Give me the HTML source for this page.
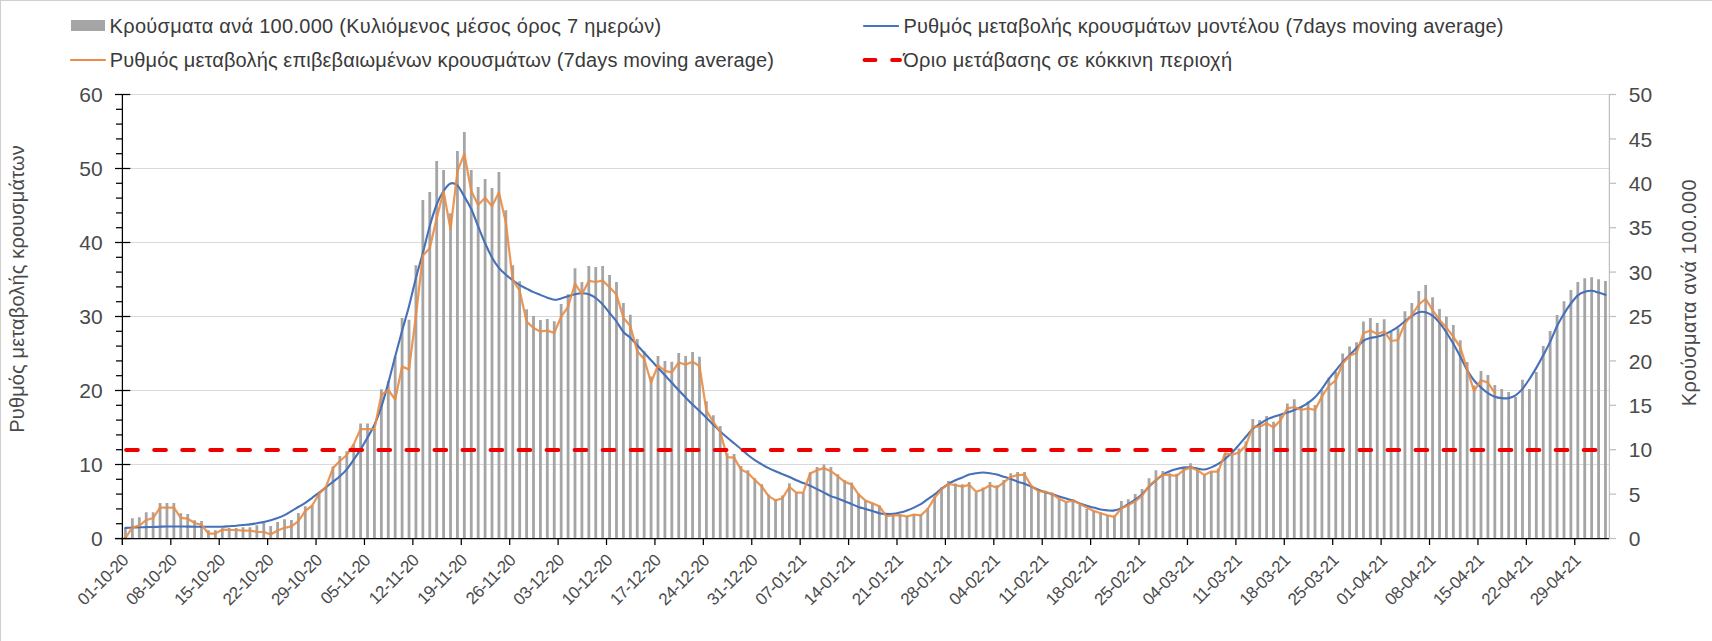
<!DOCTYPE html>
<html><head><meta charset="utf-8"><style>
html,body{margin:0;padding:0;background:#fff;}
body{width:1712px;height:641px;overflow:hidden;position:relative;}
svg{position:absolute;left:0;top:0;display:block;}
text{font-family:"Liberation Sans",sans-serif;}
.ax{font-size:21px;fill:#4a4a4a;}
.xl{font-size:17px;fill:#4a4a4a;letter-spacing:-0.6px;}
.tt{font-size:20px;fill:#4a4a4a;}
.lg{font-size:20px;fill:#3a3a3a;}
</style></head><body>
<svg width="1712" height="641" viewBox="0 0 1712 641">
<rect x="0" y="0" width="1712" height="641" fill="#fff"/>
<rect x="0" y="0" width="1712" height="1" fill="#cfcfcf"/>
<rect x="0" y="0" width="1" height="641" fill="#cfcfcf"/>
<line x1="123" y1="464.5" x2="1609.4" y2="464.5" stroke="#d9d9d9" stroke-width="1"/>
<line x1="123" y1="390.5" x2="1609.4" y2="390.5" stroke="#d9d9d9" stroke-width="1"/>
<line x1="123" y1="316.5" x2="1609.4" y2="316.5" stroke="#d9d9d9" stroke-width="1"/>
<line x1="123" y1="242.5" x2="1609.4" y2="242.5" stroke="#d9d9d9" stroke-width="1"/>
<line x1="123" y1="168.5" x2="1609.4" y2="168.5" stroke="#d9d9d9" stroke-width="1"/>
<line x1="123" y1="94.5" x2="1609.4" y2="94.5" stroke="#d9d9d9" stroke-width="1"/>
<path d="M124.06 527.9h2.8V538.5h-2.8zM130.97 518.2h2.8V538.5h-2.8zM137.89 517.2h2.8V538.5h-2.8zM144.81 512.3h2.8V538.5h-2.8zM151.72 512.3h2.8V538.5h-2.8zM158.64 503.1h2.8V538.5h-2.8zM165.55 503.1h2.8V538.5h-2.8zM172.47 503.1h2.8V538.5h-2.8zM179.39 513.2h2.8V538.5h-2.8zM186.3 514.1h2.8V538.5h-2.8zM193.22 520.2h2.8V538.5h-2.8zM200.13 521.1h2.8V538.5h-2.8zM207.05 530.2h2.8V538.5h-2.8zM213.97 530.2h2.8V538.5h-2.8zM220.88 528.3h2.8V538.5h-2.8zM227.8 528.1h2.8V538.5h-2.8zM234.71 528.1h2.8V538.5h-2.8zM241.63 527.2h2.8V538.5h-2.8zM248.55 527.2h2.8V538.5h-2.8zM255.46 525.2h2.8V538.5h-2.8zM262.38 523h2.8V538.5h-2.8zM269.29 526.1h2.8V538.5h-2.8zM276.21 521.9h2.8V538.5h-2.8zM283.13 519.3h2.8V538.5h-2.8zM290.04 520h2.8V538.5h-2.8zM296.96 513h2.8V538.5h-2.8zM303.87 506.3h2.8V538.5h-2.8zM310.79 505.5h2.8V538.5h-2.8zM317.71 493h2.8V538.5h-2.8zM324.62 486.8h2.8V538.5h-2.8zM331.54 466.5h2.8V538.5h-2.8zM338.45 456h2.8V538.5h-2.8zM345.37 451.2h2.8V538.5h-2.8zM352.29 444.2h2.8V538.5h-2.8zM359.2 423.4h2.8V538.5h-2.8zM366.12 423.4h2.8V538.5h-2.8zM373.03 429h2.8V538.5h-2.8zM379.95 389.2h2.8V538.5h-2.8zM386.87 381.1h2.8V538.5h-2.8zM393.78 356.6h2.8V538.5h-2.8zM400.7 317.9h2.8V538.5h-2.8zM407.61 319.8h2.8V538.5h-2.8zM414.53 265.2h2.8V538.5h-2.8zM421.45 200h2.8V538.5h-2.8zM428.36 192.1h2.8V538.5h-2.8zM435.28 161.1h2.8V538.5h-2.8zM442.19 170.1h2.8V538.5h-2.8zM449.11 213.3h2.8V538.5h-2.8zM456.03 151h2.8V538.5h-2.8zM462.94 132.1h2.8V538.5h-2.8zM469.86 170.1h2.8V538.5h-2.8zM476.77 187.1h2.8V538.5h-2.8zM483.69 179.1h2.8V538.5h-2.8zM490.61 188h2.8V538.5h-2.8zM497.52 172h2.8V538.5h-2.8zM504.44 210.2h2.8V538.5h-2.8zM511.35 265.2h2.8V538.5h-2.8zM518.27 281.2h2.8V538.5h-2.8zM525.19 309.2h2.8V538.5h-2.8zM532.1 316h2.8V538.5h-2.8zM539.02 319.9h2.8V538.5h-2.8zM545.93 319.1h2.8V538.5h-2.8zM552.85 321.2h2.8V538.5h-2.8zM559.77 304h2.8V538.5h-2.8zM566.68 294.2h2.8V538.5h-2.8zM573.6 268.2h2.8V538.5h-2.8zM580.51 282h2.8V538.5h-2.8zM587.43 266.1h2.8V538.5h-2.8zM594.35 267.1h2.8V538.5h-2.8zM601.26 266.1h2.8V538.5h-2.8zM608.18 275h2.8V538.5h-2.8zM615.09 282h2.8V538.5h-2.8zM622.01 302.9h2.8V538.5h-2.8zM628.93 314.7h2.8V538.5h-2.8zM635.84 339h2.8V538.5h-2.8zM642.76 351.2h2.8V538.5h-2.8zM649.67 376.5h2.8V538.5h-2.8zM656.59 356.1h2.8V538.5h-2.8zM663.51 361.1h2.8V538.5h-2.8zM670.42 361.8h2.8V538.5h-2.8zM677.34 353.1h2.8V538.5h-2.8zM684.25 356.1h2.8V538.5h-2.8zM691.17 351.9h2.8V538.5h-2.8zM698.09 356.8h2.8V538.5h-2.8zM705 401.2h2.8V538.5h-2.8zM711.92 415.2h2.8V538.5h-2.8zM718.83 426.1h2.8V538.5h-2.8zM725.75 453.2h2.8V538.5h-2.8zM732.67 454h2.8V538.5h-2.8zM739.58 466h2.8V538.5h-2.8zM746.5 470.2h2.8V538.5h-2.8zM753.41 478.2h2.8V538.5h-2.8zM760.33 484.2h2.8V538.5h-2.8zM767.25 494.5h2.8V538.5h-2.8zM774.16 499h2.8V538.5h-2.8zM781.08 495.4h2.8V538.5h-2.8zM787.99 483.2h2.8V538.5h-2.8zM794.91 492.6h2.8V538.5h-2.8zM801.83 492.6h2.8V538.5h-2.8zM808.74 472.3h2.8V538.5h-2.8zM815.66 467.1h2.8V538.5h-2.8zM822.57 464.6h2.8V538.5h-2.8zM829.49 467.1h2.8V538.5h-2.8zM836.41 474.2h2.8V538.5h-2.8zM843.32 480.2h2.8V538.5h-2.8zM850.24 482.4h2.8V538.5h-2.8zM857.15 493.6h2.8V538.5h-2.8zM864.07 500.6h2.8V538.5h-2.8zM870.99 502.7h2.8V538.5h-2.8zM877.9 505.5h2.8V538.5h-2.8zM884.82 514.6h2.8V538.5h-2.8zM891.73 515.4h2.8V538.5h-2.8zM898.65 515.1h2.8V538.5h-2.8zM905.57 515.8h2.8V538.5h-2.8zM912.48 514h2.8V538.5h-2.8zM919.4 514.6h2.8V538.5h-2.8zM926.31 508.3h2.8V538.5h-2.8zM933.23 497.1h2.8V538.5h-2.8zM940.15 487.6h2.8V538.5h-2.8zM947.06 481h2.8V538.5h-2.8zM953.98 483.4h2.8V538.5h-2.8zM960.89 484.2h2.8V538.5h-2.8zM967.81 482.1h2.8V538.5h-2.8zM974.73 492.2h2.8V538.5h-2.8zM981.64 487.6h2.8V538.5h-2.8zM988.56 482.1h2.8V538.5h-2.8zM995.47 485.2h2.8V538.5h-2.8zM1002.39 480h2.8V538.5h-2.8zM1009.31 473.2h2.8V538.5h-2.8zM1016.22 472.1h2.8V538.5h-2.8zM1023.14 472.1h2.8V538.5h-2.8zM1030.05 485.6h2.8V538.5h-2.8zM1036.97 490.1h2.8V538.5h-2.8zM1043.89 490.8h2.8V538.5h-2.8zM1050.8 492.6h2.8V538.5h-2.8zM1057.72 499.2h2.8V538.5h-2.8zM1064.63 502h2.8V538.5h-2.8zM1071.55 499.6h2.8V538.5h-2.8zM1078.47 504.8h2.8V538.5h-2.8zM1085.38 509h2.8V538.5h-2.8zM1092.3 511.1h2.8V538.5h-2.8zM1099.21 512.5h2.8V538.5h-2.8zM1106.13 515.4h2.8V538.5h-2.8zM1113.05 515.4h2.8V538.5h-2.8zM1119.96 501h2.8V538.5h-2.8zM1126.88 499.2h2.8V538.5h-2.8zM1133.79 494h2.8V538.5h-2.8zM1140.71 489.1h2.8V538.5h-2.8zM1147.63 478.2h2.8V538.5h-2.8zM1154.54 470.2h2.8V538.5h-2.8zM1161.46 471.1h2.8V538.5h-2.8zM1168.37 473.3h2.8V538.5h-2.8zM1175.29 473.7h2.8V538.5h-2.8zM1182.21 466.7h2.8V538.5h-2.8zM1189.12 463.2h2.8V538.5h-2.8zM1196.04 468.1h2.8V538.5h-2.8zM1202.95 474.4h2.8V538.5h-2.8zM1209.87 471.6h2.8V538.5h-2.8zM1216.79 468.8h2.8V538.5h-2.8zM1223.7 453.3h2.8V538.5h-2.8zM1230.62 454.7h2.8V538.5h-2.8zM1237.53 448.4h2.8V538.5h-2.8zM1244.45 441.4h2.8V538.5h-2.8zM1251.37 418.9h2.8V538.5h-2.8zM1258.28 420.1h2.8V538.5h-2.8zM1265.2 416.1h2.8V538.5h-2.8zM1272.11 421.8h2.8V538.5h-2.8zM1279.03 415.4h2.8V538.5h-2.8zM1285.95 403.5h2.8V538.5h-2.8zM1292.86 399.3h2.8V538.5h-2.8zM1299.78 407h2.8V538.5h-2.8zM1306.69 401.4h2.8V538.5h-2.8zM1313.61 404.9h2.8V538.5h-2.8zM1320.53 390.2h2.8V538.5h-2.8zM1327.44 377.5h2.8V538.5h-2.8zM1334.36 371.9h2.8V538.5h-2.8zM1341.27 353.4h2.8V538.5h-2.8zM1348.19 346.4h2.8V538.5h-2.8zM1355.11 342.2h2.8V538.5h-2.8zM1362.02 321.4h2.8V538.5h-2.8zM1368.94 318h2.8V538.5h-2.8zM1375.85 323.1h2.8V538.5h-2.8zM1382.77 319.2h2.8V538.5h-2.8zM1389.69 331.8h2.8V538.5h-2.8zM1396.6 328.3h2.8V538.5h-2.8zM1403.52 311.2h2.8V538.5h-2.8zM1410.43 303.1h2.8V538.5h-2.8zM1417.35 291.1h2.8V538.5h-2.8zM1424.27 285.1h2.8V538.5h-2.8zM1431.18 297.2h2.8V538.5h-2.8zM1438.1 309h2.8V538.5h-2.8zM1445.01 316.4h2.8V538.5h-2.8zM1451.93 325.1h2.8V538.5h-2.8zM1458.85 340.2h2.8V538.5h-2.8zM1465.76 362h2.8V538.5h-2.8zM1472.68 385.4h2.8V538.5h-2.8zM1479.59 371.1h2.8V538.5h-2.8zM1486.51 374.9h2.8V538.5h-2.8zM1493.43 385h2.8V538.5h-2.8zM1500.34 388.9h2.8V538.5h-2.8zM1507.26 392h2.8V538.5h-2.8zM1514.17 397.1h2.8V538.5h-2.8zM1521.09 379.8h2.8V538.5h-2.8zM1528.01 388.9h2.8V538.5h-2.8zM1534.92 372.1h2.8V538.5h-2.8zM1541.84 346.1h2.8V538.5h-2.8zM1548.75 331.1h2.8V538.5h-2.8zM1555.67 315.1h2.8V538.5h-2.8zM1562.59 301.2h2.8V538.5h-2.8zM1569.5 290.1h2.8V538.5h-2.8zM1576.42 282.1h2.8V538.5h-2.8zM1583.33 278.2h2.8V538.5h-2.8zM1590.25 277.2h2.8V538.5h-2.8zM1597.17 279.2h2.8V538.5h-2.8zM1604.08 281.1h2.8V538.5h-2.8z" fill="#a5a5a5"/>
<path d="M125.46 527.9C126.61 527.83 130.07 527.6 132.37 527.5C134.68 527.4 136.98 527.37 139.29 527.3C141.6 527.23 143.9 527.15 146.21 527.1C148.51 527.05 150.82 527.07 153.12 527C155.43 526.93 157.73 526.78 160.04 526.7C162.34 526.62 164.65 526.53 166.95 526.5C169.26 526.47 171.56 526.5 173.87 526.5C176.18 526.5 178.48 526.48 180.79 526.5C183.09 526.52 185.4 526.57 187.7 526.6C190.01 526.63 192.31 526.68 194.62 526.7C196.92 526.72 199.23 526.7 201.53 526.7C203.84 526.7 206.14 526.7 208.45 526.7C210.76 526.7 213.06 526.7 215.37 526.7C217.67 526.7 219.98 526.78 222.28 526.7C224.59 526.62 226.89 526.37 229.2 526.2C231.5 526.03 233.81 525.9 236.11 525.7C238.42 525.5 240.72 525.22 243.03 525C245.34 524.78 247.64 524.7 249.95 524.4C252.25 524.1 254.56 523.6 256.86 523.2C259.17 522.8 261.47 522.5 263.78 522C266.08 521.5 268.39 520.87 270.69 520.2C273 519.53 275.3 518.85 277.61 518C279.92 517.15 282.22 516.23 284.53 515.1C286.83 513.97 289.14 512.55 291.44 511.2C293.75 509.85 296.05 508.4 298.36 507C300.66 505.6 302.97 504.33 305.27 502.8C307.58 501.27 309.88 499.48 312.19 497.8C314.5 496.12 316.8 494.47 319.11 492.7C321.41 490.93 323.72 489.02 326.02 487.2C328.33 485.38 330.63 483.62 332.94 481.8C335.24 479.98 337.55 478.38 339.85 476.3C342.16 474.22 344.46 472.07 346.77 469.3C349.08 466.53 351.38 463.02 353.69 459.7C355.99 456.38 358.3 453.08 360.6 449.4C362.91 445.72 365.21 441.72 367.52 437.6C369.82 433.48 372.13 429.83 374.43 424.7C376.74 419.57 379.04 413.75 381.35 406.8C383.66 399.85 385.96 391.37 388.27 383C390.57 374.63 392.88 365.3 395.18 356.6C397.49 347.9 399.79 339.2 402.1 330.8C404.4 322.4 406.71 315 409.01 306.2C411.32 297.4 413.62 286.87 415.93 278C418.24 269.13 420.54 261.67 422.85 253C425.15 244.33 427.46 234.08 429.76 226C432.07 217.92 434.37 210.33 436.68 204.5C438.98 198.67 441.29 194.5 443.59 191C445.9 187.5 448.2 184.42 450.51 183.5C452.82 182.58 455.12 183.32 457.43 185.5C459.73 187.68 462.04 192.68 464.34 196.6C466.65 200.52 468.95 204.02 471.26 209C473.56 213.98 475.87 220.78 478.17 226.5C480.48 232.22 482.78 238.15 485.09 243.3C487.4 248.45 489.7 253.3 492.01 257.4C494.31 261.5 496.62 265.02 498.92 267.9C501.23 270.78 503.53 272.65 505.84 274.7C508.14 276.75 510.45 278.47 512.75 280.2C515.06 281.93 517.36 283.7 519.67 285.1C521.98 286.5 524.28 287.43 526.59 288.6C528.89 289.77 531.2 291.05 533.5 292.1C535.81 293.15 538.11 293.97 540.42 294.9C542.72 295.83 545.03 296.88 547.33 297.7C549.64 298.52 551.94 299.68 554.25 299.8C556.56 299.92 558.86 298.98 561.17 298.4C563.47 297.82 565.78 297 568.08 296.3C570.39 295.6 572.69 294.72 575 294.2C577.3 293.68 579.61 293.2 581.91 293.2C584.22 293.2 586.52 293.4 588.83 294.2C591.14 295 593.44 296.3 595.75 298C598.05 299.7 600.36 301.9 602.66 304.4C604.97 306.9 607.27 310.15 609.58 313C611.88 315.85 614.19 318.33 616.49 321.5C618.8 324.67 621.1 329.28 623.41 332C625.72 334.72 628.02 335.58 630.33 337.8C632.63 340.02 634.94 342.8 637.24 345.3C639.55 347.8 641.85 350.3 644.16 352.8C646.46 355.3 648.77 357.8 651.07 360.3C653.38 362.8 655.68 365.3 657.99 367.8C660.3 370.3 662.6 372.8 664.91 375.3C667.21 377.8 669.52 380.3 671.82 382.8C674.13 385.3 676.43 387.85 678.74 390.3C681.04 392.75 683.35 395.13 685.65 397.5C687.96 399.87 690.26 402.25 692.57 404.5C694.88 406.75 697.18 408.8 699.49 411C701.79 413.2 704.1 415.42 706.4 417.7C708.71 419.98 711.01 422.4 713.32 424.7C715.62 427 717.93 429.37 720.23 431.5C722.54 433.63 724.84 435.53 727.15 437.5C729.46 439.47 731.76 441.38 734.07 443.3C736.37 445.22 738.68 447.05 740.98 449C743.29 450.95 745.59 453.15 747.9 455C750.2 456.85 752.51 458.55 754.81 460.1C757.12 461.65 759.42 462.97 761.73 464.3C764.04 465.63 766.34 466.93 768.65 468.1C770.95 469.27 773.26 470.3 775.56 471.3C777.87 472.3 780.17 473.15 782.48 474.1C784.78 475.05 787.09 475.98 789.39 477C791.7 478.02 794 479.2 796.31 480.2C798.62 481.2 800.92 482.07 803.23 483C805.53 483.93 807.84 484.78 810.14 485.8C812.45 486.82 814.75 487.97 817.06 489.1C819.36 490.23 821.67 491.43 823.97 492.6C826.28 493.77 828.58 495.12 830.89 496.1C833.2 497.08 835.5 497.65 837.81 498.5C840.11 499.35 842.42 500.27 844.72 501.2C847.03 502.13 849.33 503.15 851.64 504.1C853.94 505.05 856.25 506.08 858.55 506.9C860.86 507.72 863.16 508.3 865.47 509C867.78 509.7 870.08 510.4 872.39 511.1C874.69 511.8 877 512.73 879.3 513.2C881.61 513.67 883.91 513.78 886.22 513.9C888.52 514.02 890.83 514.13 893.13 513.9C895.44 513.67 897.74 513.08 900.05 512.5C902.36 511.92 904.66 511.22 906.97 510.4C909.27 509.58 911.58 508.65 913.88 507.6C916.19 506.55 918.49 505.5 920.8 504.1C923.1 502.7 925.41 500.83 927.71 499.2C930.02 497.57 932.32 496.05 934.63 494.3C936.94 492.55 939.24 490.45 941.55 488.7C943.85 486.95 946.16 485.2 948.46 483.8C950.77 482.4 953.07 481.35 955.38 480.3C957.68 479.25 959.99 478.45 962.29 477.5C964.6 476.55 966.9 475.32 969.21 474.6C971.52 473.88 973.82 473.55 976.13 473.2C978.43 472.85 980.74 472.5 983.04 472.5C985.35 472.5 987.65 472.85 989.96 473.2C992.26 473.55 994.57 474 996.87 474.6C999.18 475.2 1001.48 476.08 1003.79 476.8C1006.1 477.52 1008.4 478.08 1010.71 478.9C1013.01 479.72 1015.32 480.88 1017.62 481.7C1019.93 482.52 1022.23 482.98 1024.54 483.8C1026.84 484.62 1029.15 485.6 1031.45 486.6C1033.76 487.6 1036.06 488.87 1038.37 489.8C1040.68 490.73 1042.98 491.45 1045.29 492.2C1047.59 492.95 1049.9 493.6 1052.2 494.3C1054.51 495 1056.81 495.7 1059.12 496.4C1061.42 497.1 1063.73 497.8 1066.03 498.5C1068.34 499.2 1070.64 499.78 1072.95 500.6C1075.26 501.42 1077.56 502.53 1079.87 503.4C1082.17 504.27 1084.48 505.1 1086.78 505.8C1089.09 506.5 1091.39 506.98 1093.7 507.6C1096 508.22 1098.31 509.03 1100.61 509.5C1102.92 509.97 1105.22 510.25 1107.53 510.4C1109.84 510.55 1112.14 510.78 1114.45 510.4C1116.75 510.02 1119.06 509.15 1121.36 508.1C1123.67 507.05 1125.97 505.52 1128.28 504.1C1130.58 502.68 1132.89 501.23 1135.19 499.6C1137.5 497.97 1139.8 496.47 1142.11 494.3C1144.42 492.13 1146.72 488.93 1149.03 486.6C1151.33 484.27 1153.64 482.3 1155.94 480.3C1158.25 478.3 1160.55 476.12 1162.86 474.6C1165.16 473.08 1167.47 472.13 1169.77 471.2C1172.08 470.27 1174.38 469.6 1176.69 469C1179 468.4 1181.3 467.87 1183.61 467.6C1185.91 467.33 1188.22 467.25 1190.52 467.4C1192.83 467.55 1195.13 468.15 1197.44 468.5C1199.74 468.85 1202.05 469.68 1204.35 469.5C1206.66 469.32 1208.96 468.33 1211.27 467.4C1213.58 466.47 1215.88 465.32 1218.19 463.9C1220.49 462.48 1222.8 460.78 1225.1 458.9C1227.41 457.02 1229.71 454.93 1232.02 452.6C1234.32 450.27 1236.63 447.53 1238.93 444.9C1241.24 442.27 1243.54 439.48 1245.85 436.8C1248.16 434.12 1250.46 430.95 1252.77 428.8C1255.07 426.65 1257.38 425.43 1259.68 423.9C1261.99 422.37 1264.29 420.78 1266.6 419.6C1268.9 418.42 1271.21 417.62 1273.51 416.8C1275.82 415.98 1278.12 415.42 1280.43 414.7C1282.74 413.98 1285.04 413.28 1287.35 412.5C1289.65 411.72 1291.96 410.92 1294.26 410C1296.57 409.08 1298.87 408.2 1301.18 407C1303.48 405.8 1305.79 404.43 1308.09 402.8C1310.4 401.17 1312.7 399.53 1315.01 397.2C1317.32 394.87 1319.62 391.85 1321.93 388.8C1324.23 385.75 1326.54 381.95 1328.84 378.9C1331.15 375.85 1333.45 373.3 1335.76 370.5C1338.06 367.7 1340.37 364.67 1342.67 362.1C1344.98 359.53 1347.28 357.43 1349.59 355.1C1351.9 352.77 1354.2 350.48 1356.51 348.1C1358.81 345.72 1361.12 342.48 1363.42 340.8C1365.73 339.12 1368.03 338.67 1370.34 338C1372.64 337.33 1374.95 337.38 1377.25 336.8C1379.56 336.22 1381.86 335.45 1384.17 334.5C1386.48 333.55 1388.78 332.37 1391.09 331.1C1393.39 329.83 1395.7 328.53 1398 326.9C1400.31 325.27 1402.61 323.12 1404.92 321.3C1407.22 319.48 1409.53 317.52 1411.83 316C1414.14 314.48 1416.44 312.83 1418.75 312.2C1421.06 311.57 1423.36 311.62 1425.67 312.2C1427.97 312.78 1430.28 313.95 1432.58 315.7C1434.89 317.45 1437.19 319.9 1439.5 322.7C1441.8 325.5 1444.11 328.98 1446.41 332.5C1448.72 336.02 1451.02 339.8 1453.33 343.8C1455.64 347.8 1457.94 352.13 1460.25 356.5C1462.55 360.87 1464.86 366 1467.16 370C1469.47 374 1471.77 377.58 1474.08 380.5C1476.38 383.42 1478.69 385.38 1480.99 387.5C1483.3 389.62 1485.6 391.67 1487.91 393.2C1490.22 394.73 1492.52 395.88 1494.83 396.7C1497.13 397.52 1499.44 397.87 1501.74 398.1C1504.05 398.33 1506.35 398.57 1508.66 398.1C1510.96 397.63 1513.27 396.83 1515.57 395.3C1517.88 393.77 1520.18 391.6 1522.49 388.9C1524.8 386.2 1527.1 382.6 1529.41 379.1C1531.71 375.6 1534.02 371.87 1536.32 367.9C1538.63 363.93 1540.93 359.63 1543.24 355.3C1545.54 350.97 1547.85 346.78 1550.15 341.9C1552.46 337.02 1554.76 330.7 1557.07 326C1559.38 321.3 1561.68 317.45 1563.99 313.7C1566.29 309.95 1568.6 306.55 1570.9 303.5C1573.21 300.45 1575.51 297.35 1577.82 295.4C1580.12 293.45 1582.43 292.58 1584.73 291.8C1587.04 291.02 1589.34 290.57 1591.65 290.7C1593.96 290.83 1596.26 291.92 1598.57 292.6C1600.87 293.28 1604.33 294.43 1605.48 294.8" fill="none" stroke="#4670b8" stroke-width="2.1" stroke-linejoin="round" stroke-linecap="round"/>
<polyline points="125.46,538 132.37,527.4 139.29,525.7 146.21,520 153.12,518.2 160.04,507.7 166.95,507.7 173.87,507.7 180.79,517.8 187.7,518.7 194.62,523 201.53,524.8 208.45,533.6 215.37,533.6 222.28,529.6 229.2,529.9 236.11,530 243.03,530.7 249.95,530.7 256.86,531.8 263.78,532 270.69,534.4 277.61,530.5 284.53,527.8 291.44,526.3 298.36,521.1 305.27,511 312.19,505.5 319.11,493.8 326.02,486.8 332.94,468.1 339.85,461 346.77,455 353.69,444.4 360.6,429 367.52,429 374.43,429 381.35,395 388.27,390 395.18,399.5 402.1,366.6 409.01,369.4 415.93,315.6 422.85,255.5 429.76,248.2 436.68,218.1 443.59,191.5 450.51,229.3 457.43,171.3 464.34,153.8 471.26,191 478.17,205 485.09,197.8 492.01,206.3 498.92,192.5 505.84,222.3 512.75,280 519.67,290.7 526.59,321.6 533.5,327.9 540.42,331.4 547.33,330.7 554.25,332.8 561.17,316.7 568.08,306.8 575,283.7 581.91,294.2 588.83,280.9 595.75,282 602.66,280.6 609.58,287.2 616.49,294.6 623.41,317.8 630.33,326 637.24,351.2 644.16,359 651.07,382.5 657.99,365.3 664.91,370.9 671.82,372.3 678.74,362.5 685.65,364.6 692.57,361.8 699.49,366 706.4,410.7 713.32,421.9 720.23,431.8 727.15,457.2 734.07,457.6 740.98,469.5 747.9,473 754.81,480 761.73,486.3 768.65,496.1 775.56,500.4 782.48,498.2 789.39,487 796.31,492.6 803.23,492.6 810.14,473.4 817.06,470.2 823.97,468.1 830.89,471.2 837.81,476.4 844.72,481.9 851.64,484.5 858.55,494.3 865.47,500.6 872.39,503.4 879.3,506.2 886.22,516.1 893.13,515.4 900.05,515.1 906.97,516.5 913.88,514.6 920.8,515.4 927.71,509 934.63,497.8 941.55,489.4 948.46,484 955.38,485.2 962.29,486.6 969.21,484.8 976.13,491.8 983.04,489.4 989.96,485.2 996.87,487.6 1003.79,482.4 1010.71,476.8 1017.62,475.1 1024.54,474.6 1031.45,486.2 1038.37,491.2 1045.29,491.8 1052.2,494 1059.12,498.8 1066.03,502 1072.95,500.6 1079.87,504.1 1086.78,507.6 1093.7,510.9 1100.61,513.2 1107.53,515.4 1114.45,516.8 1121.36,508.3 1128.28,505.2 1135.19,501.3 1142.11,495.7 1149.03,485.9 1155.94,480 1162.86,474.6 1169.77,475.2 1176.69,475.8 1183.61,470.2 1190.52,467.4 1197.44,470.2 1204.35,475.1 1211.27,471.6 1218.19,471.6 1225.1,453.3 1232.02,454.7 1238.93,452.6 1245.85,445.6 1252.77,426.7 1259.68,426.7 1266.6,423.2 1273.51,427.4 1280.43,420.4 1287.35,408.4 1294.26,407 1301.18,410 1308.09,408.4 1315.01,410 1321.93,396.5 1328.84,386 1335.76,380.4 1342.67,363.5 1349.59,355.8 1356.51,353 1363.42,333.3 1370.34,330.5 1377.25,334 1384.17,331.5 1391.09,341 1398,340 1404.92,323.4 1411.83,315 1418.75,304.5 1425.67,298.9 1432.58,310.1 1439.5,319.9 1446.41,327.6 1453.33,336.8 1460.25,347 1467.16,369.3 1474.08,391.1 1480.99,380.2 1487.91,382.6 1494.83,393.2" fill="none" stroke="#e98c45" stroke-width="2.25" stroke-opacity="0.9" stroke-linejoin="round" stroke-linecap="round"/>
<line x1="126.1" y1="450" x2="1595.9" y2="450" stroke="#ee0000" stroke-width="3.9" stroke-linecap="round" stroke-dasharray="11.8 16.23"/>
<line x1="122.4" y1="94" x2="122.4" y2="545" stroke="#000" stroke-width="1.25"/>
<line x1="115" y1="538.5" x2="130.3" y2="538.5" stroke="#000" stroke-width="1.25"/>
<line x1="116" y1="523.7" x2="122.4" y2="523.7" stroke="#000" stroke-width="1.25"/>
<line x1="116" y1="508.9" x2="122.4" y2="508.9" stroke="#000" stroke-width="1.25"/>
<line x1="116" y1="494.1" x2="122.4" y2="494.1" stroke="#000" stroke-width="1.25"/>
<line x1="116" y1="479.3" x2="122.4" y2="479.3" stroke="#000" stroke-width="1.25"/>
<line x1="115" y1="464.5" x2="130.3" y2="464.5" stroke="#000" stroke-width="1.25"/>
<line x1="116" y1="449.7" x2="122.4" y2="449.7" stroke="#000" stroke-width="1.25"/>
<line x1="116" y1="434.9" x2="122.4" y2="434.9" stroke="#000" stroke-width="1.25"/>
<line x1="116" y1="420.1" x2="122.4" y2="420.1" stroke="#000" stroke-width="1.25"/>
<line x1="116" y1="405.3" x2="122.4" y2="405.3" stroke="#000" stroke-width="1.25"/>
<line x1="115" y1="390.5" x2="130.3" y2="390.5" stroke="#000" stroke-width="1.25"/>
<line x1="116" y1="375.7" x2="122.4" y2="375.7" stroke="#000" stroke-width="1.25"/>
<line x1="116" y1="360.9" x2="122.4" y2="360.9" stroke="#000" stroke-width="1.25"/>
<line x1="116" y1="346.1" x2="122.4" y2="346.1" stroke="#000" stroke-width="1.25"/>
<line x1="116" y1="331.3" x2="122.4" y2="331.3" stroke="#000" stroke-width="1.25"/>
<line x1="115" y1="316.5" x2="130.3" y2="316.5" stroke="#000" stroke-width="1.25"/>
<line x1="116" y1="301.7" x2="122.4" y2="301.7" stroke="#000" stroke-width="1.25"/>
<line x1="116" y1="286.9" x2="122.4" y2="286.9" stroke="#000" stroke-width="1.25"/>
<line x1="116" y1="272.1" x2="122.4" y2="272.1" stroke="#000" stroke-width="1.25"/>
<line x1="116" y1="257.3" x2="122.4" y2="257.3" stroke="#000" stroke-width="1.25"/>
<line x1="115" y1="242.5" x2="130.3" y2="242.5" stroke="#000" stroke-width="1.25"/>
<line x1="116" y1="227.7" x2="122.4" y2="227.7" stroke="#000" stroke-width="1.25"/>
<line x1="116" y1="212.9" x2="122.4" y2="212.9" stroke="#000" stroke-width="1.25"/>
<line x1="116" y1="198.1" x2="122.4" y2="198.1" stroke="#000" stroke-width="1.25"/>
<line x1="116" y1="183.3" x2="122.4" y2="183.3" stroke="#000" stroke-width="1.25"/>
<line x1="115" y1="168.5" x2="130.3" y2="168.5" stroke="#000" stroke-width="1.25"/>
<line x1="116" y1="153.7" x2="122.4" y2="153.7" stroke="#000" stroke-width="1.25"/>
<line x1="116" y1="138.9" x2="122.4" y2="138.9" stroke="#000" stroke-width="1.25"/>
<line x1="116" y1="124.1" x2="122.4" y2="124.1" stroke="#000" stroke-width="1.25"/>
<line x1="116" y1="109.3" x2="122.4" y2="109.3" stroke="#000" stroke-width="1.25"/>
<line x1="115" y1="94.5" x2="130.3" y2="94.5" stroke="#000" stroke-width="1.25"/>
<line x1="115" y1="538.5" x2="1609.4" y2="538.5" stroke="#000" stroke-width="1.25"/>
<line x1="122.4" y1="538.5" x2="122.4" y2="545" stroke="#000" stroke-width="1.25"/>
<line x1="170.81" y1="538.5" x2="170.81" y2="545" stroke="#000" stroke-width="1.25"/>
<line x1="219.22" y1="538.5" x2="219.22" y2="545" stroke="#000" stroke-width="1.25"/>
<line x1="267.64" y1="538.5" x2="267.64" y2="545" stroke="#000" stroke-width="1.25"/>
<line x1="316.05" y1="538.5" x2="316.05" y2="545" stroke="#000" stroke-width="1.25"/>
<line x1="364.46" y1="538.5" x2="364.46" y2="545" stroke="#000" stroke-width="1.25"/>
<line x1="412.87" y1="538.5" x2="412.87" y2="545" stroke="#000" stroke-width="1.25"/>
<line x1="461.28" y1="538.5" x2="461.28" y2="545" stroke="#000" stroke-width="1.25"/>
<line x1="509.7" y1="538.5" x2="509.7" y2="545" stroke="#000" stroke-width="1.25"/>
<line x1="558.11" y1="538.5" x2="558.11" y2="545" stroke="#000" stroke-width="1.25"/>
<line x1="606.52" y1="538.5" x2="606.52" y2="545" stroke="#000" stroke-width="1.25"/>
<line x1="654.93" y1="538.5" x2="654.93" y2="545" stroke="#000" stroke-width="1.25"/>
<line x1="703.34" y1="538.5" x2="703.34" y2="545" stroke="#000" stroke-width="1.25"/>
<line x1="751.76" y1="538.5" x2="751.76" y2="545" stroke="#000" stroke-width="1.25"/>
<line x1="800.17" y1="538.5" x2="800.17" y2="545" stroke="#000" stroke-width="1.25"/>
<line x1="848.58" y1="538.5" x2="848.58" y2="545" stroke="#000" stroke-width="1.25"/>
<line x1="896.99" y1="538.5" x2="896.99" y2="545" stroke="#000" stroke-width="1.25"/>
<line x1="945.4" y1="538.5" x2="945.4" y2="545" stroke="#000" stroke-width="1.25"/>
<line x1="993.82" y1="538.5" x2="993.82" y2="545" stroke="#000" stroke-width="1.25"/>
<line x1="1042.23" y1="538.5" x2="1042.23" y2="545" stroke="#000" stroke-width="1.25"/>
<line x1="1090.64" y1="538.5" x2="1090.64" y2="545" stroke="#000" stroke-width="1.25"/>
<line x1="1139.05" y1="538.5" x2="1139.05" y2="545" stroke="#000" stroke-width="1.25"/>
<line x1="1187.46" y1="538.5" x2="1187.46" y2="545" stroke="#000" stroke-width="1.25"/>
<line x1="1235.88" y1="538.5" x2="1235.88" y2="545" stroke="#000" stroke-width="1.25"/>
<line x1="1284.29" y1="538.5" x2="1284.29" y2="545" stroke="#000" stroke-width="1.25"/>
<line x1="1332.7" y1="538.5" x2="1332.7" y2="545" stroke="#000" stroke-width="1.25"/>
<line x1="1381.11" y1="538.5" x2="1381.11" y2="545" stroke="#000" stroke-width="1.25"/>
<line x1="1429.52" y1="538.5" x2="1429.52" y2="545" stroke="#000" stroke-width="1.25"/>
<line x1="1477.94" y1="538.5" x2="1477.94" y2="545" stroke="#000" stroke-width="1.25"/>
<line x1="1526.35" y1="538.5" x2="1526.35" y2="545" stroke="#000" stroke-width="1.25"/>
<line x1="1574.76" y1="538.5" x2="1574.76" y2="545" stroke="#000" stroke-width="1.25"/>
<line x1="1609.4" y1="94" x2="1609.4" y2="538.5" stroke="#bfbfbf" stroke-width="1.25"/>
<line x1="1609.4" y1="538.5" x2="1616" y2="538.5" stroke="#bfbfbf" stroke-width="1.25"/>
<line x1="1609.4" y1="494.1" x2="1616" y2="494.1" stroke="#bfbfbf" stroke-width="1.25"/>
<line x1="1609.4" y1="449.7" x2="1616" y2="449.7" stroke="#bfbfbf" stroke-width="1.25"/>
<line x1="1609.4" y1="405.3" x2="1616" y2="405.3" stroke="#bfbfbf" stroke-width="1.25"/>
<line x1="1609.4" y1="360.9" x2="1616" y2="360.9" stroke="#bfbfbf" stroke-width="1.25"/>
<line x1="1609.4" y1="316.5" x2="1616" y2="316.5" stroke="#bfbfbf" stroke-width="1.25"/>
<line x1="1609.4" y1="272.1" x2="1616" y2="272.1" stroke="#bfbfbf" stroke-width="1.25"/>
<line x1="1609.4" y1="227.7" x2="1616" y2="227.7" stroke="#bfbfbf" stroke-width="1.25"/>
<line x1="1609.4" y1="183.3" x2="1616" y2="183.3" stroke="#bfbfbf" stroke-width="1.25"/>
<line x1="1609.4" y1="138.9" x2="1616" y2="138.9" stroke="#bfbfbf" stroke-width="1.25"/>
<line x1="1609.4" y1="94.5" x2="1616" y2="94.5" stroke="#bfbfbf" stroke-width="1.25"/>
<text x="102.6" y="546.1" text-anchor="end" class="ax">0</text>
<text x="102.6" y="472.1" text-anchor="end" class="ax">10</text>
<text x="102.6" y="398.1" text-anchor="end" class="ax">20</text>
<text x="102.6" y="324.1" text-anchor="end" class="ax">30</text>
<text x="102.6" y="250.1" text-anchor="end" class="ax">40</text>
<text x="102.6" y="176.1" text-anchor="end" class="ax">50</text>
<text x="102.6" y="102.1" text-anchor="end" class="ax">60</text>
<text x="1628.8" y="546.1" class="ax">0</text>
<text x="1628.8" y="501.7" class="ax">5</text>
<text x="1628.8" y="457.3" class="ax">10</text>
<text x="1628.8" y="412.9" class="ax">15</text>
<text x="1628.8" y="368.5" class="ax">20</text>
<text x="1628.8" y="324.1" class="ax">25</text>
<text x="1628.8" y="279.7" class="ax">30</text>
<text x="1628.8" y="235.3" class="ax">35</text>
<text x="1628.8" y="190.9" class="ax">40</text>
<text x="1628.8" y="146.5" class="ax">45</text>
<text x="1628.8" y="102.1" class="ax">50</text>
<text transform="translate(125 557.2) rotate(-45)" x="0" y="6" text-anchor="end" class="xl">01-10-20</text>
<text transform="translate(173.41 557.2) rotate(-45)" x="0" y="6" text-anchor="end" class="xl">08-10-20</text>
<text transform="translate(221.82 557.2) rotate(-45)" x="0" y="6" text-anchor="end" class="xl">15-10-20</text>
<text transform="translate(270.24 557.2) rotate(-45)" x="0" y="6" text-anchor="end" class="xl">22-10-20</text>
<text transform="translate(318.65 557.2) rotate(-45)" x="0" y="6" text-anchor="end" class="xl">29-10-20</text>
<text transform="translate(367.06 557.2) rotate(-45)" x="0" y="6" text-anchor="end" class="xl">05-11-20</text>
<text transform="translate(415.47 557.2) rotate(-45)" x="0" y="6" text-anchor="end" class="xl">12-11-20</text>
<text transform="translate(463.88 557.2) rotate(-45)" x="0" y="6" text-anchor="end" class="xl">19-11-20</text>
<text transform="translate(512.3 557.2) rotate(-45)" x="0" y="6" text-anchor="end" class="xl">26-11-20</text>
<text transform="translate(560.71 557.2) rotate(-45)" x="0" y="6" text-anchor="end" class="xl">03-12-20</text>
<text transform="translate(609.12 557.2) rotate(-45)" x="0" y="6" text-anchor="end" class="xl">10-12-20</text>
<text transform="translate(657.53 557.2) rotate(-45)" x="0" y="6" text-anchor="end" class="xl">17-12-20</text>
<text transform="translate(705.94 557.2) rotate(-45)" x="0" y="6" text-anchor="end" class="xl">24-12-20</text>
<text transform="translate(754.36 557.2) rotate(-45)" x="0" y="6" text-anchor="end" class="xl">31-12-20</text>
<text transform="translate(802.77 557.2) rotate(-45)" x="0" y="6" text-anchor="end" class="xl">07-01-21</text>
<text transform="translate(851.18 557.2) rotate(-45)" x="0" y="6" text-anchor="end" class="xl">14-01-21</text>
<text transform="translate(899.59 557.2) rotate(-45)" x="0" y="6" text-anchor="end" class="xl">21-01-21</text>
<text transform="translate(948 557.2) rotate(-45)" x="0" y="6" text-anchor="end" class="xl">28-01-21</text>
<text transform="translate(996.42 557.2) rotate(-45)" x="0" y="6" text-anchor="end" class="xl">04-02-21</text>
<text transform="translate(1044.83 557.2) rotate(-45)" x="0" y="6" text-anchor="end" class="xl">11-02-21</text>
<text transform="translate(1093.24 557.2) rotate(-45)" x="0" y="6" text-anchor="end" class="xl">18-02-21</text>
<text transform="translate(1141.65 557.2) rotate(-45)" x="0" y="6" text-anchor="end" class="xl">25-02-21</text>
<text transform="translate(1190.06 557.2) rotate(-45)" x="0" y="6" text-anchor="end" class="xl">04-03-21</text>
<text transform="translate(1238.48 557.2) rotate(-45)" x="0" y="6" text-anchor="end" class="xl">11-03-21</text>
<text transform="translate(1286.89 557.2) rotate(-45)" x="0" y="6" text-anchor="end" class="xl">18-03-21</text>
<text transform="translate(1335.3 557.2) rotate(-45)" x="0" y="6" text-anchor="end" class="xl">25-03-21</text>
<text transform="translate(1383.71 557.2) rotate(-45)" x="0" y="6" text-anchor="end" class="xl">01-04-21</text>
<text transform="translate(1432.12 557.2) rotate(-45)" x="0" y="6" text-anchor="end" class="xl">08-04-21</text>
<text transform="translate(1480.54 557.2) rotate(-45)" x="0" y="6" text-anchor="end" class="xl">15-04-21</text>
<text transform="translate(1528.95 557.2) rotate(-45)" x="0" y="6" text-anchor="end" class="xl">22-04-21</text>
<text transform="translate(1577.36 557.2) rotate(-45)" x="0" y="6" text-anchor="end" class="xl">29-04-21</text>
<text transform="translate(23.5 432.7) rotate(-90)" x="0" y="0" class="tt" id="ltitle" letter-spacing="0.15">Ρυθμός μεταβολής κρουσμάτων</text>
<text transform="translate(1695.8 406.3) rotate(-90)" x="0" y="0" class="tt" id="rtitle" letter-spacing="0.45">Κρούσματα ανά 100.000</text>
<rect x="71" y="20" width="34" height="11" fill="#a5a5a5"/>
<text x="109.6" y="32.8" class="lg" id="lg1" letter-spacing="0.283">Κρούσματα ανά 100.000 (Κυλιόμενος μέσος όρος 7 ημερών)</text>
<line x1="70.2" y1="60" x2="105.8" y2="60" stroke="#ea8a4c" stroke-width="2"/>
<text x="109.7" y="66.7" class="lg" id="lg2" letter-spacing="0.131">Ρυθμός μεταβολής επιβεβαιωμένων κρουσμάτων (7days moving average)</text>
<line x1="863.2" y1="26" x2="898.9" y2="26" stroke="#4472c4" stroke-width="2"/>
<text x="903.4" y="32.7" class="lg" id="lg3" letter-spacing="0.166">Ρυθμός μεταβολής κρουσμάτων μοντέλου (7days moving average)</text>
<line x1="864.5" y1="60" x2="900" y2="60" stroke="#ee0000" stroke-width="3.9" stroke-linecap="round" stroke-dasharray="11 16.6"/>
<text x="903.2" y="66.7" class="lg" id="lg4" letter-spacing="0.31">Όριο μετάβασης σε κόκκινη περιοχή</text>
</svg>
</body></html>
